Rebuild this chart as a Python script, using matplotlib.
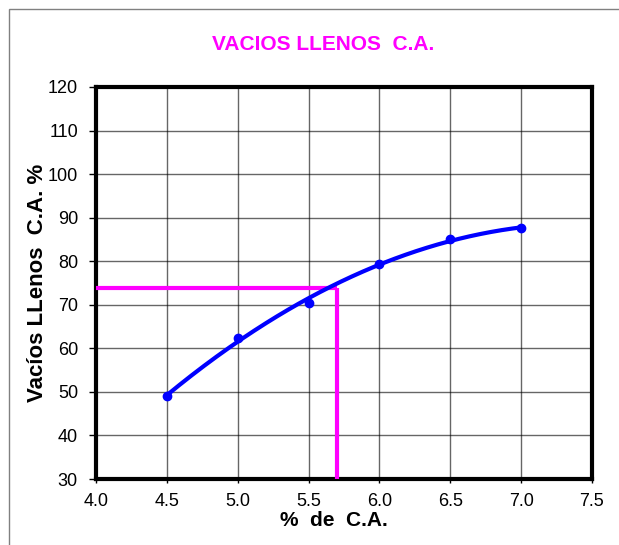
import numpy as np
import matplotlib
matplotlib.use("Agg")
import matplotlib.pyplot as plt
from matplotlib.patches import Rectangle

plt.rcParams['font.family'] = ['Liberation Sans', 'DejaVu Sans']

x_ca = [4.5, 5.0, 5.5, 6.0, 6.5, 7.0]
vll = [49.0, 62.4, 70.5, 79.4, 85.0, 87.6]
opt_ca = 5.7
opt_vll = 73.8
xticks = [4.0, 4.5, 5.0, 5.5, 6.0, 6.5, 7.0, 7.5]
yticks = [30, 40, 50, 60, 70, 80, 90, 100, 110, 120]

fig = plt.figure(figsize=(6.19, 5.45), dpi=100)
fig.patches.append(Rectangle((9/619, -0.1), 1.2, 1 - 9/545 + 0.1, transform=fig.transFigure,
                             fill=False, edgecolor='#808080', linewidth=1))
ax = fig.add_axes([96/619, 1 - 479/545, (592-96)/619, (479-87)/545])

coef = np.polyfit(x_ca, vll, 2)
xs = np.linspace(min(x_ca), max(x_ca), 200)
ax.plot(xs, np.polyval(coef, xs), color='#0000FF', linewidth=3, zorder=4)
ax.plot(x_ca, vll, 'o', color='#0000FF', markersize=6, zorder=5)

ax.plot([xticks[0], opt_ca], [opt_vll, opt_vll], color='#FF00FF', linewidth=3, zorder=3, solid_capstyle='butt')
ax.plot([opt_ca, opt_ca], [yticks[0], opt_vll], color='#FF00FF', linewidth=3, zorder=3, solid_capstyle='butt')

ax.set_xlim(4.0, 7.5)
ax.set_ylim(30, 120)
ax.set_xticks(xticks)
ax.set_xticklabels([f"{v:.1f}" for v in xticks])
ax.set_yticks(yticks)
ax.grid(True, color='#000000', linewidth=1, alpha=0.6)
ax.set_axisbelow(True)
for s in ax.spines.values():
    s.set_linewidth(3)
    s.set_color('black')
ax.tick_params(axis='both', labelsize=13, direction='out', width=1)
ax.tick_params(axis='x', length=3, pad=7)
ax.tick_params(axis='y', length=5, pad=8)

ax.set_xlabel('%  de  C.A.', fontsize=15, fontweight='bold')
ax.xaxis.set_label_coords((334-96)/(592-96), -(521-479)/(479-87))
ax.set_ylabel('Vacíos LLenos  C.A. %', fontsize=16, fontweight='bold')
ax.yaxis.set_label_coords(-(96-38)/(592-96), (479-283)/(479-87))
ax.xaxis.label.set_va('center')
ax.yaxis.label.set_va('center')
fig.text(323/619, 1 - 45/545, 'VACIOS LLENOS  C.A.', color='#FF00FF', fontsize=15,
         fontweight='bold', ha='center', va='center')

fig.savefig('out.png', dpi=100)
